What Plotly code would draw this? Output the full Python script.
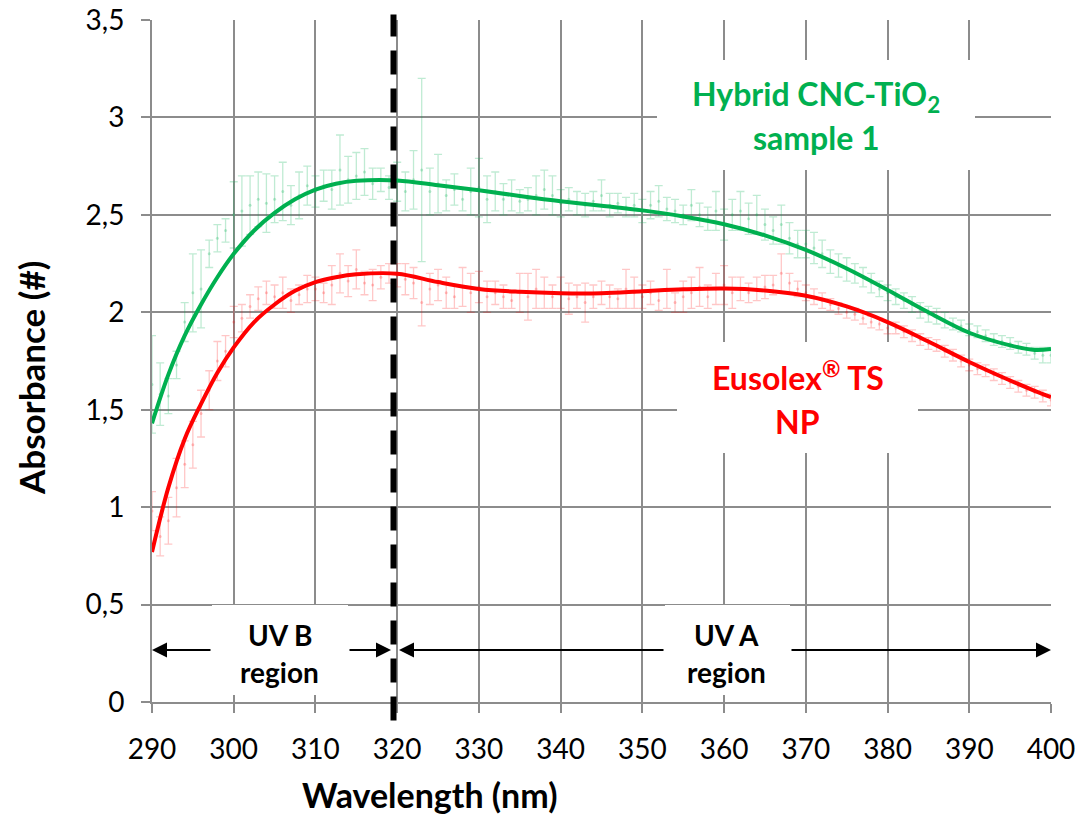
import plotly.graph_objects as go

# ---------------- data ----------------
wavelength = list(range(290, 401))

hybrid_abs = [
    1.63, 1.58, 1.57, 1.73, 1.95, 2.10, 2.12, 2.30, 2.38, 2.42,
    2.50, 2.52, 2.55, 2.58, 2.56, 2.58, 2.62, 2.55, 2.60, 2.65,
    2.62, 2.65, 2.63, 2.73, 2.68, 2.70, 2.72, 2.66, 2.68, 2.64,
    2.67, 2.62, 2.68, 2.73, 2.62, 2.66, 2.60, 2.63, 2.58, 2.62,
    2.64, 2.58, 2.62, 2.58, 2.60, 2.57, 2.58, 2.60, 2.63, 2.60,
    2.56, 2.58, 2.56, 2.55, 2.57, 2.60, 2.55, 2.56, 2.54, 2.55,
    2.52, 2.55, 2.57, 2.53, 2.52, 2.50, 2.55, 2.50, 2.48, 2.52,
    2.45, 2.50, 2.52, 2.48, 2.50, 2.45, 2.42, 2.45, 2.38, 2.35,
    2.35, 2.33, 2.30, 2.26, 2.24, 2.22, 2.20, 2.18, 2.15, 2.12,
    2.10, 2.08, 2.06, 2.04, 2.01, 1.99, 1.98, 1.96, 1.94, 1.93,
    1.91, 1.90, 1.88, 1.86, 1.85, 1.84, 1.82, 1.81, 1.79, 1.78,
    1.78,
]
hybrid_err = [
    0.25, 0.16, 0.09, 0.07, 0.10, 0.20, 0.20, 0.07, 0.07, 0.06,
    0.17, 0.18, 0.15, 0.14, 0.15, 0.12, 0.15, 0.10, 0.12, 0.10,
    0.08, 0.08, 0.10, 0.18, 0.12, 0.12, 0.12, 0.08, 0.06, 0.06,
    0.10, 0.10, 0.15, 0.47, 0.12, 0.15, 0.08, 0.08, 0.06, 0.12,
    0.15, 0.12, 0.10, 0.08, 0.08, 0.06, 0.06, 0.10, 0.10, 0.10,
    0.07, 0.06, 0.06, 0.06, 0.05, 0.08, 0.06, 0.05, 0.05, 0.06,
    0.06, 0.07, 0.08, 0.06, 0.06, 0.05, 0.08, 0.06, 0.06, 0.10,
    0.08, 0.08, 0.10, 0.08, 0.10, 0.08, 0.07, 0.10, 0.08, 0.07,
    0.07, 0.08, 0.07, 0.06, 0.06, 0.06, 0.05, 0.05, 0.05, 0.04,
    0.04, 0.04, 0.04, 0.04, 0.04, 0.04, 0.04, 0.04, 0.03, 0.03,
    0.03, 0.03, 0.03, 0.03, 0.03, 0.03, 0.03, 0.03, 0.03, 0.04,
    0.04,
]

eusolex_abs = [
    0.98, 0.85, 0.93, 1.10, 1.22, 1.32, 1.48, 1.60, 1.75, 1.80,
    1.95, 1.97, 2.03, 2.07, 2.10, 2.08, 2.10, 2.06, 2.09, 2.12,
    2.12, 2.10, 2.14, 2.20, 2.16, 2.22, 2.15, 2.14, 2.18, 2.20,
    2.19, 2.17, 2.15, 2.05, 2.12, 2.14, 2.10, 2.08, 2.13, 2.10,
    2.13, 2.08, 2.10, 2.08, 2.06, 2.10, 2.08, 2.12, 2.10, 2.08,
    2.10, 2.07, 2.08, 2.05, 2.08, 2.10, 2.08, 2.07, 2.12, 2.10,
    2.08, 2.10, 2.06, 2.12, 2.05, 2.08, 2.10, 2.13, 2.08, 2.12,
    2.14, 2.10, 2.12, 2.10, 2.12, 2.13, 2.14, 2.20, 2.15, 2.12,
    2.10, 2.08, 2.06, 2.04, 2.02, 2.00, 1.99, 1.97, 1.95, 1.94,
    1.92, 1.92, 1.90, 1.88, 1.86, 1.84, 1.83, 1.80, 1.78, 1.75,
    1.73, 1.71, 1.70, 1.68, 1.66, 1.64, 1.62, 1.60, 1.59, 1.57,
    1.55,
]
eusolex_err = [
    0.10, 0.10, 0.12, 0.15, 0.12, 0.12, 0.12, 0.10, 0.10, 0.08,
    0.08, 0.07, 0.06, 0.06, 0.06, 0.06, 0.08, 0.06, 0.05, 0.07,
    0.06, 0.05, 0.10, 0.10, 0.08, 0.10, 0.06, 0.08, 0.06, 0.05,
    0.06, 0.08, 0.08, 0.12, 0.08, 0.08, 0.08, 0.06, 0.10, 0.10,
    0.08, 0.08, 0.06, 0.06, 0.04, 0.10, 0.12, 0.10, 0.08, 0.06,
    0.08, 0.08, 0.06, 0.10, 0.06, 0.06, 0.06, 0.05, 0.10, 0.08,
    0.06, 0.06, 0.05, 0.10, 0.05, 0.08, 0.08, 0.10, 0.06, 0.08,
    0.10, 0.08, 0.06, 0.05, 0.06, 0.06, 0.05, 0.10, 0.05, 0.04,
    0.04, 0.04, 0.04, 0.03, 0.03, 0.03, 0.03, 0.03, 0.03, 0.03,
    0.03, 0.03, 0.03, 0.03, 0.03, 0.03, 0.03, 0.03, 0.03, 0.03,
    0.03, 0.03, 0.03, 0.03, 0.03, 0.03, 0.03, 0.03, 0.03, 0.03,
    0.03,
]

fit_wavelength = [290, 292, 294, 296, 298, 300, 302.5, 305, 307.5, 310, 312.5, 315, 320,
                  325, 330, 335, 340, 345, 350, 355, 360, 365, 370, 375,
                  380, 385, 390, 395, 398, 400]
hybrid_fit = [1.43, 1.68, 1.88, 2.04, 2.18, 2.30, 2.42, 2.51, 2.58, 2.63, 2.66, 2.675, 2.677,
              2.652, 2.626, 2.597, 2.570, 2.547, 2.523, 2.492, 2.452, 2.395, 2.320, 2.225,
              2.115, 2.000, 1.895, 1.830, 1.807, 1.812]
eusolex_fit = [0.77, 1.10, 1.35, 1.53, 1.69, 1.82, 1.95, 2.04, 2.11, 2.155, 2.18, 2.195, 2.198,
               2.155, 2.120, 2.105, 2.098, 2.098, 2.108, 2.118, 2.122, 2.112, 2.085, 2.030,
               1.950, 1.850, 1.745, 1.650, 1.597, 1.565]

y_tick_vals = [0, 0.5, 1, 1.5, 2, 2.5, 3, 3.5]
y_tick_text = ["0", "0,5", "1", "1,5", "2", "2,5", "3", "3,5"]
x_tick_vals = [290, 300, 310, 320, 330, 340, 350, 360, 370, 380, 390, 400]

uv_boundary = 319.55

# ---------------- layout helpers (screen pixel -> axis units) ----------------
W, H = 1077, 816
L, R, T, B = 152, 1051, 20, 702   # plot area in pixels
def X(px):
    return 290 + (px - L) / (R - L) * 110
def Y(px):
    return (B - px) / (B - T) * 3.5

GREEN = "#00B050"
RED = "#FF0000"
GRID = "#8c8c8c"
FONT = "Lato"

fig = go.Figure()

fig.add_trace(go.Scatter(
    x=wavelength, y=hybrid_abs, mode="markers",
    marker=dict(size=3, color="rgba(0,176,80,0.25)"),
    error_y=dict(type="data", array=hybrid_err, color="rgba(0,176,80,0.25)",
                 thickness=1.3, width=4),
    showlegend=False, hoverinfo="skip"))
fig.add_trace(go.Scatter(
    x=wavelength, y=eusolex_abs, mode="markers",
    marker=dict(size=3, color="rgba(255,0,0,0.22)"),
    error_y=dict(type="data", array=eusolex_err, color="rgba(255,0,0,0.22)",
                 thickness=1.3, width=4),
    showlegend=False, hoverinfo="skip"))
fig.add_trace(go.Scatter(
    x=fit_wavelength, y=hybrid_fit, mode="lines",
    line=dict(color=GREEN, width=4, shape="spline", smoothing=1.0),
    showlegend=False))
fig.add_trace(go.Scatter(
    x=fit_wavelength, y=eusolex_fit, mode="lines",
    line=dict(color=RED, width=4, shape="spline", smoothing=1.0),
    showlegend=False))

# white label backgrounds (cover gridlines)
boxes = [(657, 975, 60, 170), (677, 918, 342, 453), (212, 348, 605, 695), (665, 790, 605, 695)]
for x0, x1, y0, y1 in boxes:
    fig.add_shape(type="rect", xref="x", yref="y", x0=X(x0), x1=X(x1), y0=Y(y1), y1=Y(y0),
                  fillcolor="white", line=dict(width=0), layer="between")

# dashed UV boundary
fig.add_shape(type="line", xref="x", yref="paper", x0=uv_boundary, x1=uv_boundary,
              y0=-0.027, y1=1.008, line=dict(color="black", width=6, dash="24px,14px"),
              layer="above")

ann = []
arrow_y = Y(650)
# arrows (each half with its own head)
for tail, head in [(212, 152), (348, 391), (665, 399), (790, 1051)]:
    ann.append(dict(x=X(head), y=arrow_y, ax=X(tail), ay=arrow_y, xref="x", yref="y",
                    axref="x", ayref="y", text="", showarrow=True, arrowhead=2,
                    arrowsize=1.5, arrowwidth=2, arrowcolor="black", standoff=0))

def label(text, px, py, size, color):
    ann.append(dict(x=X(px), y=Y(py), xref="x", yref="y", text=text, showarrow=False,
                    xanchor="center", yanchor="middle",
                    font=dict(family=FONT, size=size, color=color, weight="bold")))

label("Hybrid CNC-TiO<sub>2</sub>", 816, 96, 32, GREEN)
label("sample 1", 816, 137, 32, GREEN)
label("Eusolex<sup>®</sup> TS", 798, 376, 32, RED)
label("NP", 797, 421, 32, RED)
label("UV B", 280, 635, 28, "black")
label("region", 279, 672, 28, "black")
label("UV A", 726, 635, 28, "black")
label("region", 726, 672, 28, "black")

# axis titles
ann.append(dict(x=(429 - L) / (R - L), y=(B - 795) / (B - T), xref="paper", yref="paper",
                text="Wavelength (nm)", showarrow=False, xanchor="center", yanchor="middle",
                font=dict(family=FONT, size=34, color="black", weight="bold")))
ann.append(dict(x=(31 - L) / (R - L), y=(B - 378) / (B - T), xref="paper", yref="paper",
                text="Absorbance (#)", showarrow=False, xanchor="center", yanchor="middle",
                textangle=-90,
                font=dict(family=FONT, size=35, color="black", weight="bold")))

fig.update_layout(
    width=W, height=H,
    margin=dict(l=L, r=W - R, t=T, b=H - B, autoexpand=False),
    paper_bgcolor="white", plot_bgcolor="white",
    showlegend=False,
    annotations=ann,
    font=dict(family=FONT, color="black"),
)
fig.update_xaxes(range=[290, 400], tickvals=x_tick_vals, showgrid=True, gridcolor=GRID,
                 gridwidth=2, showline=True, linecolor=GRID, linewidth=2, mirror=False,
                 ticks="outside", ticklen=9, tickwidth=2, tickcolor=GRID,
                 tickfont=dict(family=FONT, size=28, color="black"),
                 ticklabelstandoff=12, zeroline=False, automargin=False)
fig.update_yaxes(range=[0, 3.5001], tickvals=y_tick_vals, ticktext=y_tick_text, showgrid=True,
                 gridcolor=GRID, gridwidth=2, showline=True, linecolor=GRID, linewidth=2,
                 ticks="outside", ticklen=9, tickwidth=2, tickcolor=GRID,
                 tickfont=dict(family=FONT, size=28, color="black"),
                 ticklabelstandoff=11, zeroline=False, automargin=False)

fig.write_html("out.html",
               config={"displayModeBar": False},
               post_script="document.body.style.margin='0';document.body.style.overflow='hidden';")
